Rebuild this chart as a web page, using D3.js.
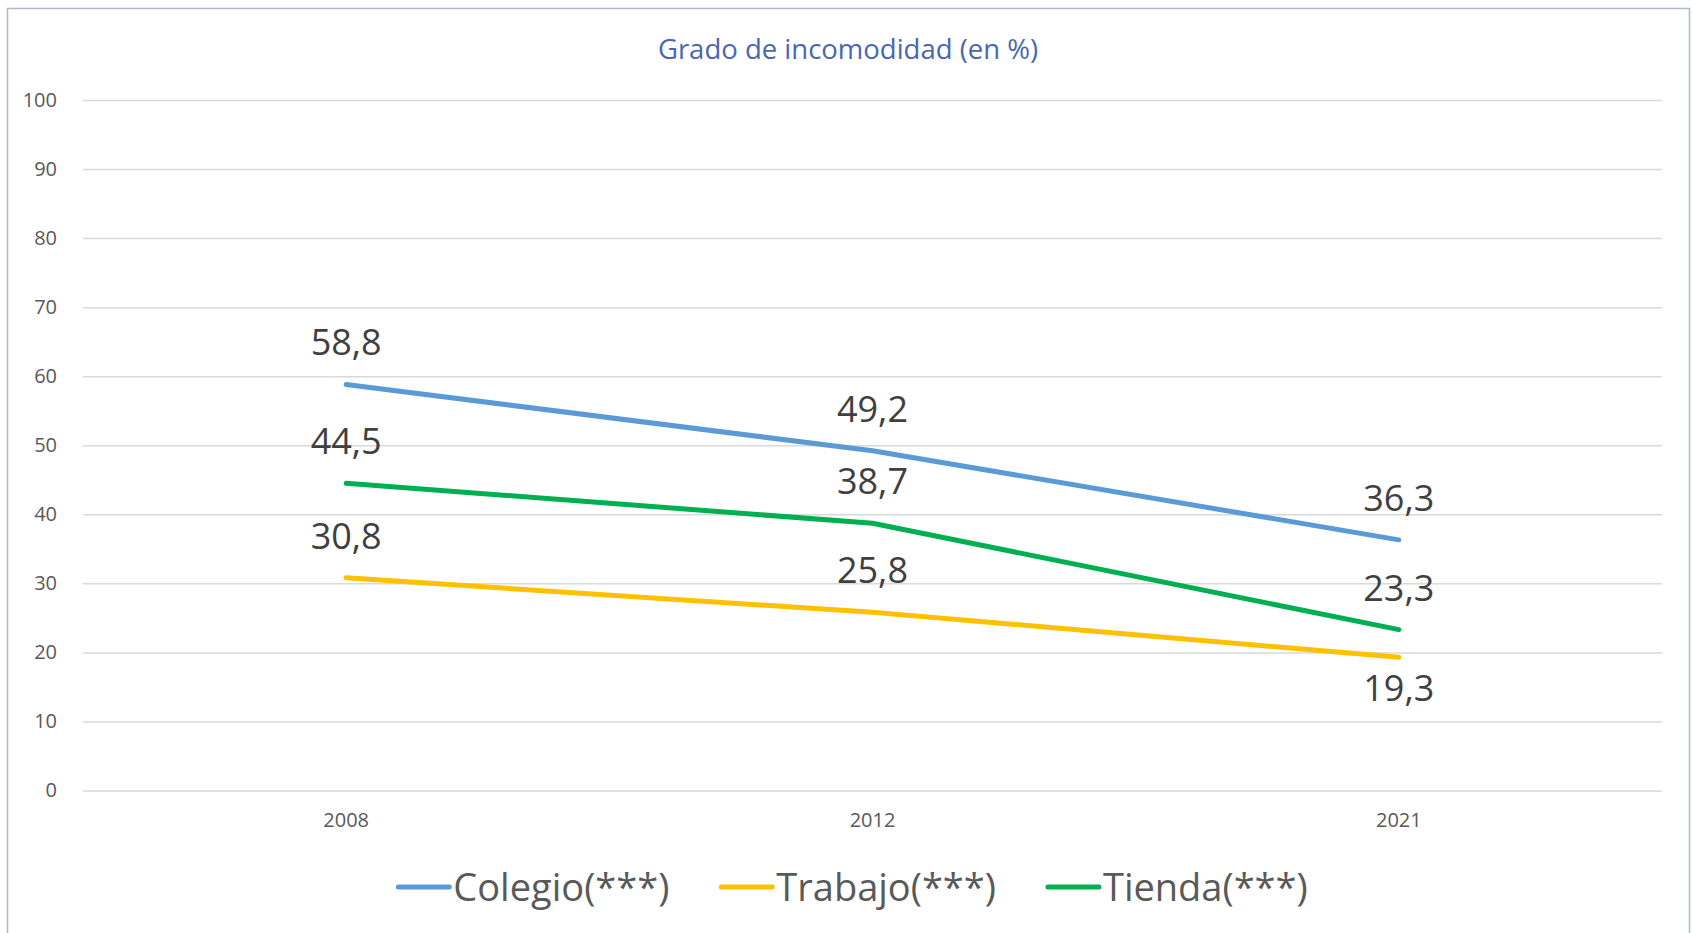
<!DOCTYPE html>
<html>
<head>
<meta charset="utf-8">
<script src="https://cdnjs.cloudflare.com/ajax/libs/d3/7.8.5/d3.min.js"></script>
<style>
	body { margin: 0; background: #fff; }
	text { font-family: "Open Sans", "Noto Sans", sans-serif; }
</style>
</head>
<body>
<div id="chart"></div>
<script>
var years = ["2008", "2012", "2021"];
var colegio = [58.8, 49.2, 36.3];
var trabajo = [30.8, 25.8, 19.3];
var tienda = [44.5, 38.7, 23.3];
var yTicks = [0, 10, 20, 30, 40, 50, 60, 70, 80, 90, 100];
var seriesNames = ["Colegio(***)", "Trabajo(***)", "Tienda(***)"];
// label position per point: 1 = above, -1 = below
var trabajoLabelPos = [1, 1, -1];

var width = 1692,
	height = 933,
	margins = {"top": 100, "bottom": 142.5, "left": 83, "right": 30};

var series = [
	{name: seriesNames[0], values: colegio, color: "#5b9bd5", pos: [1, 1, 1]},
	{name: seriesNames[1], values: trabajo, color: "#ffc000", pos: trabajoLabelPos},
	{name: seriesNames[2], values: tienda, color: "#00b050", pos: [1, 1, 1]}
];

var svg = d3.select("#chart")
	.append("svg")
	.attr("width", width)
	.attr("height", height);

svg.append("rect")
	.attr("x", 7.5)
	.attr("y", 8.5)
	.attr("width", 1682)
	.attr("height", 940)
	.attr("fill", "#fff")
	.attr("stroke", "#adb9ca")
	.attr("stroke-width", 1.5);

var xScale = d3.scaleBand()
	.domain(years)
	.range([margins.left, width - margins.right]);

var yScale = d3.scaleLinear()
	.domain([0, 100])
	.range([height - margins.bottom, margins.top]);

// gridlines + y labels
var yAxis = d3.axisLeft(yScale)
	.tickValues(yTicks)
	.tickSize(-(width - margins.left - margins.right))
	.tickPadding(26);

var yG = svg.append("g")
	.attr("transform", "translate(" + margins.left + ",0)")
	.call(yAxis);
yG.select(".domain").remove();
yG.selectAll(".tick line").attr("stroke", "#d9d9d9").attr("stroke-width", 1.5);
yG.selectAll(".tick text")
	.attr("fill", "#595959")
	.style("font-size", "20px")
	.style("font-family", "'Open Sans', sans-serif");

var xAxis = d3.axisBottom(xScale).tickSize(0).tickPadding(22);
var xG = svg.append("g")
	.attr("transform", "translate(0," + yScale(0) + ")")
	.call(xAxis);
xG.select(".domain").remove();
xG.selectAll(".tick text")
	.attr("fill", "#595959")
	.style("font-size", "20px")
	.style("font-family", "'Open Sans', sans-serif");

// title
svg.append("text")
	.attr("x", 848)
	.attr("y", 59)
	.attr("text-anchor", "middle")
	.attr("fill", "#4a67b0")
	.style("font-size", "27.5px")
	.text("Grado de incomodidad (en %)");

var line = d3.line()
	.x(function(d, i) { return xScale(years[i]) + xScale.bandwidth() / 2; })
	.y(function(d) { return yScale(d); });

var groups = svg.selectAll("g.series")
	.data(series)
	.enter()
	.append("g")
	.attr("class", "series");

groups.append("path")
	.attr("d", function(d) { return line(d.values); })
	.attr("fill", "none")
	.attr("stroke", function(d) { return d.color; })
	.attr("stroke-width", 5)
	.attr("stroke-linecap", "round")
	.attr("stroke-linejoin", "round");

groups.selectAll("text.lbl")
	.data(function(d) {
		return d.values.map(function(v, i) { return {v: v, i: i, pos: d.pos[i]}; });
	})
	.enter()
	.append("text")
	.attr("class", "lbl")
	.attr("x", function(d) { return xScale(years[d.i]) + xScale.bandwidth() / 2; })
	.attr("y", function(d) { return yScale(d.v) + (d.pos > 0 ? -29 : 44); })
	.attr("text-anchor", "middle")
	.attr("fill", "#404040")
	.style("font-size", "36px")
	.text(function(d) { return d3.format(".1f")(d.v).replace(".", ","); });

// legend
var legend = svg.append("g").attr("class", "legend");
var lx = 0;
series.forEach(function(s, i) {
	var item = legend.append("g").attr("transform", "translate(" + lx + ",0)");
	item.append("line")
		.attr("x1", 2).attr("x2", 53)
		.attr("y1", 0).attr("y2", 0)
		.attr("stroke", s.color)
		.attr("stroke-width", 5)
		.attr("stroke-linecap", "round");
	var t = item.append("text")
		.attr("x", 57)
		.attr("y", 13.5)
		.attr("fill", "#595959")
		.style("font-size", "38px")
		.text(s.name);
	lx += 57 + t.node().getComputedTextLength() + 50;
});
lx -= 50;
legend.attr("transform", "translate(" + (852 - lx / 2) + ",887)");
</script>
</body>
</html>
